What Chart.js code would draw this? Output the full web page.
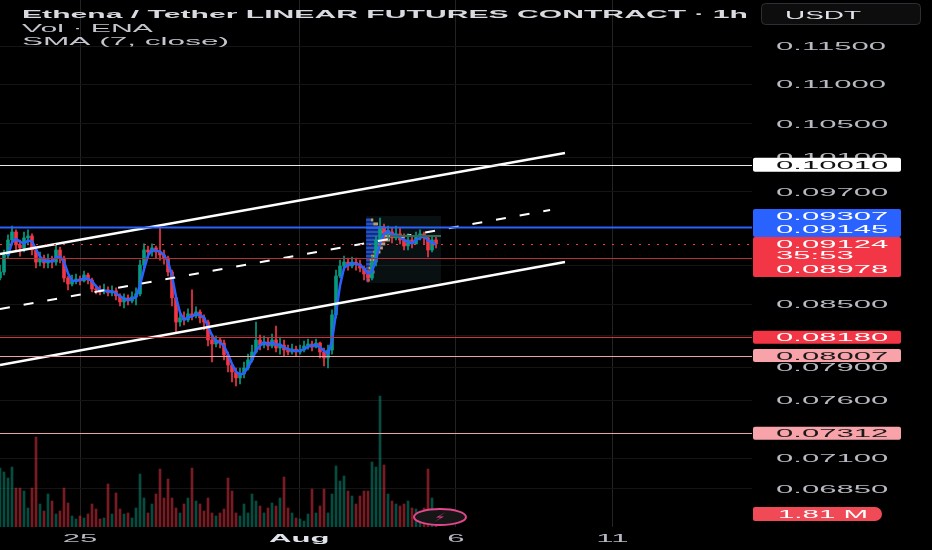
<!DOCTYPE html>
<html>
<head>
<meta charset="utf-8">
<script src="https://cdn.jsdelivr.net/npm/chart.js@4.4.0/dist/chart.umd.min.js"></script>
<style>
html, body { margin: 0; padding: 0; background: #000; }
canvas { display: block; }
</style>
</head>
<body>
<canvas id="chart" width="932" height="550"></canvas>
<script>
const firstBarHour = -61.3;   // hours from 25 Jul 00:00
const barStepHours = 3.065;

const opens = [0.08767,0.08829,0.09006,0.09166,0.09252,0.09113,0.09081,0.09188,0.09209,0.09059,
  0.08932,0.08974,0.08922,0.08953,0.08932,0.09059,0.08974,0.08767,0.08706,0.08747,
  0.08757,0.08737,0.08798,0.08747,0.08656,0.08646,0.08626,0.08646,0.08616,0.08636,
  0.08586,0.08525,0.08566,0.08535,0.08576,0.08606,0.08901,0.09059,0.09038,0.09081,
  0.09038,0.09006,0.08974,0.08829,0.08566,0.08327,0.08367,0.08347,0.08407,0.08387,
  0.08426,0.08367,0.08327,0.08154,0.08116,0.08154,0.08125,0.08012,0.07919,0.07854,
  0.07800,0.07836,0.07891,0.07966,0.08040,0.08154,0.08106,0.08135,0.08097,0.08154,
  0.08078,0.08106,0.08059,0.08040,0.08068,0.08040,0.08059,0.08097,0.08116,0.08087,
  0.08125,0.08040,0.07984,0.08059,0.08397,0.08788,0.08891,0.08932,0.08891,0.08932,
  0.08911,0.08870,0.08808,0.08767,0.08932,0.09166,0.09296,0.09231,0.09252,0.09188,
  0.09231,0.09166,0.09102,0.09166,0.09124,0.09209,0.09231,0.09188,0.09059,0.09166];

const highs = [0.08901,0.09059,0.09220,0.09317,0.09274,0.09166,0.09252,0.09274,0.09231,0.09081,
  0.09038,0.09006,0.09017,0.08995,0.09113,0.09091,0.08995,0.08788,0.08798,0.08808,
  0.08788,0.08839,0.08818,0.08767,0.08696,0.08686,0.08706,0.08676,0.08686,0.08666,
  0.08606,0.08606,0.08596,0.08626,0.08666,0.08953,0.09124,0.09102,0.09124,0.09102,
  0.09307,0.09059,0.08995,0.08849,0.08586,0.08426,0.08426,0.08456,0.08646,0.08476,
  0.08446,0.08397,0.08347,0.08192,0.08192,0.08173,0.08154,0.08040,0.07928,0.07891,
  0.07891,0.07947,0.08021,0.08106,0.08327,0.08202,0.08192,0.08173,0.08211,0.08288,
  0.08182,0.08154,0.08106,0.08116,0.08097,0.08106,0.08144,0.08163,0.08144,0.08163,
  0.08135,0.08078,0.08106,0.08446,0.08849,0.08953,0.08995,0.08974,0.08985,0.08974,
  0.08953,0.08891,0.08849,0.08995,0.09209,0.09405,0.09339,0.09317,0.09296,0.09317,
  0.09296,0.09231,0.09231,0.09209,0.09252,0.09274,0.09252,0.09209,0.09209,0.09209];

const lows = [0.08747,0.08798,0.08974,0.09113,0.09059,0.08995,0.09038,0.09113,0.09006,0.08870,
  0.08891,0.08870,0.08870,0.08870,0.08901,0.08922,0.08727,0.08646,0.08686,0.08706,
  0.08696,0.08727,0.08706,0.08626,0.08606,0.08596,0.08606,0.08586,0.08586,0.08545,
  0.08485,0.08466,0.08495,0.08515,0.08495,0.08586,0.08870,0.08974,0.08995,0.08974,
  0.08953,0.08911,0.08788,0.08485,0.08231,0.08288,0.08298,0.08327,0.08347,0.08367,
  0.08318,0.08250,0.08097,0.07947,0.08087,0.08078,0.07966,0.07854,0.07763,0.07727,
  0.07745,0.07800,0.07873,0.07947,0.08030,0.08059,0.08078,0.08059,0.08078,0.08040,
  0.08021,0.08003,0.08012,0.08021,0.08003,0.08021,0.08040,0.08068,0.08050,0.08078,
  0.07984,0.07910,0.07891,0.08021,0.08367,0.08767,0.08849,0.08849,0.08870,0.08849,
  0.08829,0.08747,0.08727,0.08747,0.08891,0.09124,0.09145,0.09166,0.09134,0.09166,
  0.09124,0.09059,0.09059,0.09081,0.09124,0.09166,0.09124,0.08985,0.09038,0.09081];

const closes = [0.08829,0.09006,0.09166,0.09252,0.09113,0.09081,0.09188,0.09209,0.09059,0.08932,
  0.08974,0.08922,0.08953,0.08932,0.09059,0.08974,0.08767,0.08706,0.08747,0.08757,
  0.08737,0.08798,0.08747,0.08656,0.08646,0.08626,0.08646,0.08616,0.08636,0.08586,
  0.08525,0.08566,0.08535,0.08576,0.08606,0.08901,0.09059,0.09038,0.09081,0.09038,
  0.09006,0.08974,0.08829,0.08566,0.08327,0.08367,0.08347,0.08407,0.08387,0.08426,
  0.08367,0.08327,0.08154,0.08116,0.08154,0.08125,0.08012,0.07919,0.07854,0.07800,
  0.07836,0.07891,0.07966,0.08040,0.08154,0.08106,0.08135,0.08097,0.08154,0.08078,
  0.08106,0.08059,0.08040,0.08068,0.08040,0.08059,0.08097,0.08116,0.08087,0.08125,
  0.08040,0.07984,0.08059,0.08397,0.08788,0.08891,0.08932,0.08891,0.08932,0.08911,
  0.08870,0.08808,0.08767,0.08932,0.09166,0.09296,0.09231,0.09252,0.09188,0.09231,
  0.09166,0.09102,0.09166,0.09124,0.09209,0.09231,0.09188,0.09059,0.09166,0.09124];

// volume in millions of ENA
const volumes = [8.20,7.65,6.81,8.34,5.42,5.42,5.00,2.64,5.42,12.51,
  3.20,2.22,4.59,3.61,1.81,2.22,5.42,3.34,1.53,1.11,
  1.53,1.25,1.81,3.20,2.50,1.11,1.25,5.98,1.81,4.73,
  2.50,1.81,1.95,1.25,2.64,7.37,4.03,1.95,3.20,4.59,
  8.06,4.03,6.67,4.03,2.64,1.95,3.20,4.03,8.20,3.61,
  3.20,2.22,4.03,1.95,1.53,1.95,2.50,6.81,5.00,1.95,
  1.53,3.20,1.95,4.59,3.61,2.92,1.95,2.64,3.34,2.92,
  4.03,6.95,2.64,1.95,1.25,1.11,0.83,1.81,5.28,1.95,
  2.92,5.28,1.95,4.59,8.48,6.39,7.09,5.00,4.31,3.20,
  4.31,5.00,5.00,9.04,8.34,18.21,8.62,4.59,3.61,3.20,
  2.92,3.20,3.61,2.64,2.50,2.22,2.64,8.06,4.03,1.81];

const dayHours = [0, 168, 288, 408];
const dayLabels = ['25', 'Aug', '6', '11'];
const priceTicks = [0.115, 0.110, 0.105, 0.101, 0.097, 0.093, 0.089, 0.085, 0.082, 0.079, 0.076, 0.071, 0.0685];

// horizontal levels drawn on the chart
const levelPrices = [0.10010, 0.09307, 0.09124, 0.08978, 0.08180, 0.08007, 0.07312];
const levelColors = ['#e8e8e8', '#2962ff', '#f23645', '#b3303a', '#d2323e', '#e9a4a9', '#e9a4a9'];
const levelDotted = [false, false, true, false, false, false, false];

// trend channel
const channelHours = [-61.3, 371.6];
const upperChannel = [0.09017, 0.10147];
const lowerChannel = [0.07919, 0.08933];
const midHours = [-61.3, 360.2];
const midChannel = [0.08455, 0.09493];

// visible range volume profile
const profileHours = [219.2, 276.6];
const profileRange = [0.08716, 0.09426];
const profilePrices = [0.09383, 0.09339, 0.09296, 0.09252, 0.09209, 0.09166, 0.09124, 0.09081,
  0.09038, 0.08995, 0.08953, 0.08911, 0.08870, 0.08829, 0.08788, 0.08747];
const profileBuy = [4, 6, 10, 12, 14, 12, 10, 8, 6, 4, 3, 3, 2, 2, 1, 1];
const profileSell = [2, 4, 6, 8, 10, 8, 6, 6, 6, 5, 6, 5, 4, 5, 3, 2];
const pocPrice = 0.09209;
const pocHours = [237.5, 276.6];

const upColor = '#089981';
const downColor = '#f23645';

const barHours = closes.map((c, i) => firstBarHour + i * barStepHours);
const isUp = closes.map((c, i) => c >= opens[i]);
const candleColors = isUp.map(u => u ? upColor : downColor);
const volColors = isUp.map(u => u ? 'rgba(8, 153, 129, 0.5)' : 'rgba(242, 54, 69, 0.5)');

// SMA 7 on 1h ~ 3 bars of 3h
const smaLen = 3;
const sma = closes.map((c, i) => {
  if (i < smaLen - 1) return null;
  let s = 0;
  for (let k = i - smaLen + 1; k <= i; k++) s += closes[k];
  return s / smaLen;
});

// the screenshot is squashed vertically, so all text is drawn stretched sideways
let sx = 2.7;
function stretchText(ctx, text, x, y, font, color, align, width) {
  ctx.save();
  ctx.font = font;
  ctx.fillStyle = color;
  ctx.textBaseline = 'alphabetic';
  ctx.textAlign = 'left';
  const raw = ctx.measureText(text).width;
  const k = width ? width / raw : sx;
  const left = align === 'center' ? x - raw * k / 2 : x;
  ctx.translate(left, y);
  ctx.scale(k, 1);
  ctx.fillText(text, 0, 0);
  ctx.restore();
}

const FONT = '11px "Liberation Sans", Arial, sans-serif';
const BOLD = 'bold 11px "Liberation Sans", Arial, sans-serif';

const tvOverlay = {
  id: 'tvOverlay',
  beforeDatasetsDraw(chart) {
    const ctx = chart.ctx;
    const xs = chart.scales.x, ys = chart.scales.y;
    // profile box
    const x0 = xs.getPixelForValue(profileHours[0]);
    const x1 = xs.getPixelForValue(profileHours[1]);
    const y0 = ys.getPixelForValue(profileRange[1]);
    const y1 = ys.getPixelForValue(profileRange[0]);
    ctx.save();
    ctx.fillStyle = 'rgba(70, 120, 140, 0.13)';
    ctx.fillRect(x0, y0, x1 - x0, y1 - y0);
    const pxPerUnit = 1.2;
    profilePrices.forEach((p, i) => {
      const y = ys.getPixelForValue(p);
      ctx.fillStyle = 'rgba(41, 98, 255, 0.8)';
      ctx.fillRect(x0, y - 1.5, profileBuy[i] * pxPerUnit, 3);
      ctx.fillStyle = 'rgba(230, 190, 150, 0.8)';
      ctx.fillRect(x0 + profileBuy[i] * pxPerUnit, y - 1.5, profileSell[i] * pxPerUnit, 3);
    });
    ctx.restore();
  },
  afterDatasetsDraw(chart) {
    const ctx = chart.ctx;
    const area = chart.chartArea;
    const xs = chart.scales.x, ys = chart.scales.y;
    ctx.save();
    levelPrices.forEach((p, i) => {
      const y = Math.round(ys.getPixelForValue(p)) + 0.5;
      ctx.strokeStyle = levelColors[i];
      ctx.lineWidth = i === 1 ? 2 : 1;
      ctx.setLineDash(levelDotted[i] ? [2, 7] : []);
      ctx.beginPath();
      ctx.moveTo(area.left, y);
      ctx.lineTo(area.right, y);
      ctx.stroke();
    });
    // point of control
    ctx.setLineDash([]);
    ctx.strokeStyle = '#2f6b55';
    ctx.lineWidth = 2;
    const py = ys.getPixelForValue(pocPrice);
    ctx.beginPath();
    ctx.moveTo(xs.getPixelForValue(pocHours[0]), py);
    ctx.lineTo(xs.getPixelForValue(pocHours[1]), py);
    ctx.stroke();
    ctx.restore();
  },
  afterDraw(chart) {
    const ctx = chart.ctx;
    const xs = chart.scales.x, ys = chart.scales.y, yv = chart.scales.yv;
    ctx.save();
    ctx.font = FONT;
    sx = 110 / ctx.measureText('0.11500').width;

    // price axis
    const textX = 776;
    priceTicks.forEach(v => {
      stretchText(ctx, v.toFixed(5), textX, ys.getPixelForValue(v) + 4, FONT, '#b7bac2');
    });

    const boxX = 753, boxW = 148;
    function box(top, h, bg, lines, fg) {
      ctx.fillStyle = bg;
      ctx.beginPath();
      ctx.roundRect(boxX, top, boxW, h, 2);
      ctx.fill();
      lines.forEach(l => stretchText(ctx, l[0], textX, top + l[1], FONT, fg));
    }
    const yCur = ys.getPixelForValue(0.09124);
    const yTop = ys.getPixelForValue(0.10010);
    box(yTop - 7, 14, '#ffffff', [['0.10010', 11]], '#111111');
    box(yCur - 35, 28, '#2962ff', [['0.09307', 11], ['0.09145', 24]], '#ffffff');
    box(yCur - 7, 40, '#f23645', [['0.09124', 11], ['35:53', 22.5], ['0.08978', 36]], '#ffffff');
    const y818 = ys.getPixelForValue(0.08180);
    box(y818 - 6.5, 13, '#f23645', [['0.08180', 10.5]], '#ffffff');
    const y800 = ys.getPixelForValue(0.08007);
    box(y800 - 6.5, 13, '#f7a3a9', [['0.08007', 10.5]], '#1a1a1a');
    const y731 = ys.getPixelForValue(0.07312);
    box(y731 - 6.5, 13, '#f7a3a9', [['0.07312', 10.5]], '#1a1a1a');
    const lastVol = volumes[volumes.length - 1];
    const yVol = yv.getPixelForValue(lastVol);
    ctx.fillStyle = '#f04a57';
    ctx.beginPath();
    ctx.roundRect(boxX, yVol - 7, 129, 14, [2, 7, 7, 2]);
    ctx.fill();
    stretchText(ctx, lastVol.toFixed(2) + ' M', 778, yVol + 4, FONT, '#ffffff', 'left', 90);

    // time axis
    dayHours.forEach((h, i) => {
      const x = xs.getPixelForValue(h);
      stretchText(ctx, dayLabels[i], x, 542, i === 1 ? BOLD : FONT, i === 1 ? '#e0e3eb' : '#b7bac2', 'center');
    });

    // legend text
    stretchText(ctx, 'Ethena / Tether LINEAR FUTURES CONTRACT · 1h', 22, 18, BOLD, '#d8dae0', 'left', 726);
    stretchText(ctx, 'Vol · ENA', 22, 31.5, FONT, '#c3c6cd', 'left', 131);
    stretchText(ctx, 'SMA (7, close)', 22, 45, FONT, '#c3c6cd', 'left', 207);

    // currency button
    ctx.fillStyle = '#0d0d0d';
    ctx.strokeStyle = '#2c2f36';
    ctx.lineWidth = 1;
    ctx.beginPath();
    ctx.roundRect(761.5, 3.5, 159, 21, 4);
    ctx.fill();
    ctx.stroke();
    stretchText(ctx, 'USDT', 785, 18.5, FONT, '#e0e3eb', 'left', 76);

    // flash badge
    ctx.fillStyle = '#161616';
    ctx.strokeStyle = '#e2468d';
    ctx.lineWidth = 2;
    ctx.beginPath();
    ctx.ellipse(440, 517, 26, 8, 0, 0, Math.PI * 2);
    ctx.fill();
    ctx.stroke();
    ctx.fillStyle = '#e2468d';
    ctx.beginPath();
    ctx.moveTo(446, 512);
    ctx.lineTo(436, 517.5);
    ctx.lineTo(441, 517.5);
    ctx.lineTo(434, 522);
    ctx.lineTo(444, 516.5);
    ctx.lineTo(439, 516.5);
    ctx.closePath();
    ctx.fill();
    ctx.restore();
  }
};

const wickData = barHours.map((h, i) => ({ x: h, y: [lows[i], highs[i]] }));
const bodyData = barHours.map((h, i) => ({ x: h, y: [opens[i], closes[i]] }));
const volData = barHours.map((h, i) => ({ x: h, y: volumes[i] }));
const smaData = barHours.map((h, i) => ({ x: h, y: sma[i] }));

new Chart(document.getElementById('chart'), {
  type: 'bar',
  data: {
    datasets: [
      {
        type: 'line', data: [{ x: channelHours[0], y: upperChannel[0] }, { x: channelHours[1], y: upperChannel[1] }],
        borderColor: '#ffffff', borderWidth: 2.5, pointRadius: 0, yAxisID: 'y', order: 0
      },
      {
        type: 'line', data: [{ x: channelHours[0], y: lowerChannel[0] }, { x: channelHours[1], y: lowerChannel[1] }],
        borderColor: '#ffffff', borderWidth: 2.5, pointRadius: 0, yAxisID: 'y', order: 0
      },
      {
        type: 'line', data: [{ x: midHours[0], y: midChannel[0] }, { x: midHours[1], y: midChannel[1] }],
        borderColor: '#ffffff', borderWidth: 2, borderDash: [10, 14], pointRadius: 0, yAxisID: 'y', order: 0
      },
      {
        type: 'line', data: smaData, borderColor: '#2962ff', borderWidth: 2.5,
        pointRadius: 0, yAxisID: 'y', order: 1
      },
      {
        data: bodyData, backgroundColor: candleColors, barThickness: 3, minBarLength: 1,
        grouped: false, yAxisID: 'y', order: 2
      },
      {
        data: wickData, backgroundColor: candleColors, barThickness: 1,
        grouped: false, yAxisID: 'y', order: 3
      },
      {
        data: volData, backgroundColor: volColors, barThickness: 2,
        grouped: false, yAxisID: 'yv', order: 4
      }
    ]
  },
  options: {
    responsive: false,
    animation: false,
    layout: { padding: { left: 0, right: 180, top: 0, bottom: 23 } },
    plugins: { legend: { display: false }, tooltip: { enabled: false } },
    scales: {
      x: {
        type: 'linear', min: -61.3, max: 514.9, offset: false, bounds: 'data',
        ticks: { display: false },
        grid: { color: '#232323', drawTicks: false, offset: false },
        border: { display: false },
        afterBuildTicks: (scale) => { scale.ticks = dayHours.map(v => ({ value: v })); }
      },
      y: {
        type: 'logarithmic', position: 'right', min: 0.06552, max: 0.12136, bounds: 'data',
        ticks: { display: false },
        grid: { color: '#141414', drawTicks: false },
        border: { display: false },
        afterBuildTicks: (scale) => { scale.ticks = priceTicks.map(v => ({ value: v })); }
      },
      yv: {
        type: 'linear', display: false, min: 0, max: 73.3
      }
    }
  },
  plugins: [tvOverlay]
});
</script>
</body>
</html>
